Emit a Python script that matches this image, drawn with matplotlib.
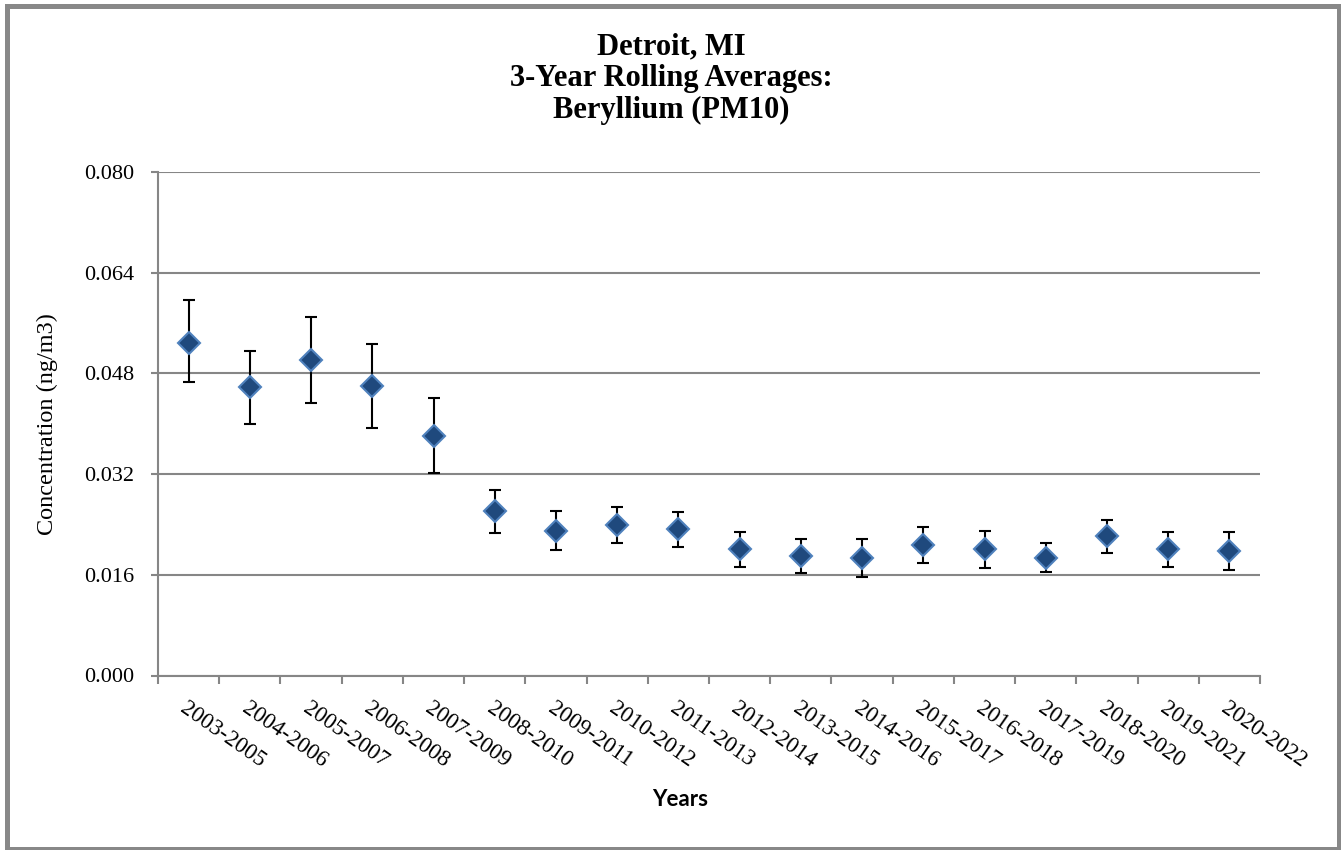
import numpy as np
import matplotlib.pyplot as plt
from matplotlib.patches import Rectangle
from matplotlib.ticker import FormatStrFormatter

periods = ["2003-2005", "2004-2006", "2005-2007", "2006-2008", "2007-2009",
           "2008-2010", "2009-2011", "2010-2012", "2011-2013", "2012-2014",
           "2013-2015", "2014-2016", "2015-2017", "2016-2018", "2017-2019",
           "2018-2020", "2019-2021", "2020-2022"]
means = [0.0529, 0.0459, 0.0502, 0.0460, 0.0381, 0.0261, 0.0230, 0.0239, 0.0233,
         0.0201, 0.0190, 0.0187, 0.0208, 0.0201, 0.0187, 0.0221, 0.0201, 0.0198]
ci_low = [0.0466, 0.0400, 0.0433, 0.0394, 0.0321, 0.0226, 0.0199, 0.0210, 0.0204,
          0.0172, 0.0163, 0.0156, 0.0179, 0.0171, 0.0165, 0.0194, 0.0172, 0.0168]
ci_high = [0.0596, 0.0516, 0.0570, 0.0527, 0.0441, 0.0295, 0.0261, 0.0267, 0.0259,
           0.0228, 0.0217, 0.0217, 0.0236, 0.0229, 0.0210, 0.0247, 0.0228, 0.0228]
y_ticks = [0.000, 0.016, 0.032, 0.048, 0.064, 0.080]

W, H = 1341, 850
fig = plt.figure(figsize=(W / 100, H / 100), dpi=100)
ax = fig.add_axes([158 / W, 1 - 675.5 / H, (1260 - 158) / W, (675.5 - 172) / H])

serif = "Liberation Serif"
grey = "#868686"

x = np.arange(len(periods))
m = np.array(means)
yerr = np.vstack([m - np.array(ci_low), np.array(ci_high) - m])

ax.errorbar(x, m, yerr=yerr, fmt="none", ecolor="black", elinewidth=1.5,
            capsize=4.5, capthick=1.5, zorder=3)
ax.plot(x, m, linestyle="none", marker="D", markersize=11.5,
        markerfacecolor="#1F497D", markeredgecolor="#4F81BD",
        markeredgewidth=1.5, zorder=4)

ax.set_yticks(y_ticks)
ax.yaxis.set_major_formatter(FormatStrFormatter("%.3f"))
ax.set_xlim(-0.5, len(periods) - 0.5)
ax.set_ylim(0, 0.08)
ax.grid(axis="y", color=grey, linewidth=1.5)
ax.set_axisbelow(True)

for s in ["top", "right"]:
    ax.spines[s].set_visible(False)
for s in ["left", "bottom"]:
    ax.spines[s].set_color(grey)
    ax.spines[s].set_linewidth(1.5)

ax.tick_params(axis="y", colors=grey, length=5, width=1.5, pad=12,
               labelcolor="black", labelsize=16)
for lab in ax.get_yticklabels():
    lab.set_fontfamily(serif)

ax.set_xticks(x)
ax.set_xticklabels(periods, fontfamily=serif, fontsize=16.5, rotation=-35,
                   ha="left", va="top", rotation_mode="anchor")
ax.tick_params(axis="x", which="major", length=0, pad=16)
ax.set_xticks(np.arange(-0.5, len(periods)), minor=True)
ax.tick_params(axis="x", which="minor", length=6, width=1.5, colors=grey)

ax.set_ylabel("Concentration (ng/m3)", fontfamily=serif, fontsize=17.5, labelpad=19)

fig.text(671 / W, 1 - 32 / H, "Detroit, MI\n3-Year Rolling Averages:\nBeryllium (PM10)",
         ha="center", va="top", fontfamily=serif, fontweight="bold",
         fontsize=22, linespacing=1.14)
fig.text(680 / W, 1 - 799 / H, "Years", ha="center", va="center",
         fontfamily="Lato", fontweight="bold", fontsize=16)

# outer chart frame
fig.add_artist(Rectangle((6.5 / W, 1 - 849 / H), (1338.5 - 6.5) / W, (849 - 6) / H,
                         transform=fig.transFigure, fill=False,
                         edgecolor="#888888", linewidth=3.6))

fig.savefig("out.png", dpi=100)
